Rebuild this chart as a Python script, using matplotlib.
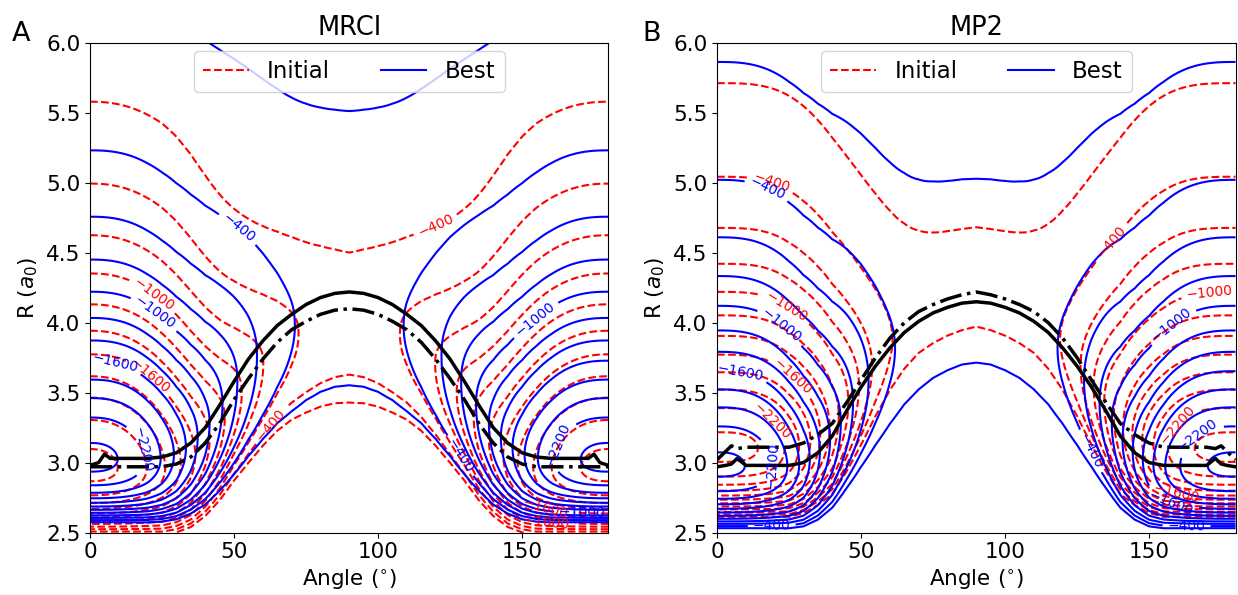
import numpy as np
import matplotlib
matplotlib.use("Agg")
import matplotlib.pyplot as plt
from matplotlib.lines import Line2D

# ---------------- data ----------------
panel_titles = ["MRCI", "MP2"]
panel_letters = ["A", "B"]
series_names = ["Initial", "Best"]
contour_levels = [-2400, -2200, -2000, -1800, -1600, -1400, -1200, -1000,
                  -800, -600, -400, -200]
labelled_levels = [-2200, -1600, -1000, -400]

# minimum-energy paths R(angle), read for 0..90 deg (surface symmetric about 90)
mep_angle = [0, 3, 5, 7, 10, 15, 20, 25, 30, 35, 40, 45, 50, 55, 60, 65, 70, 75, 80, 85, 90]
mrci_best_mep = [2.98, 3.00, 3.06, 3.03, 3.03, 3.03, 3.03, 3.04, 3.07, 3.14, 3.25,
                 3.41, 3.58, 3.74, 3.87, 3.98, 4.06, 4.13, 4.18, 4.21, 4.22]
mrci_initial_mep = [2.97, 2.97, 2.97, 2.97, 2.97, 2.97, 2.97, 2.97, 2.99, 3.04, 3.14,
                    3.28, 3.45, 3.60, 3.74, 3.86, 3.95, 4.01, 4.06, 4.09, 4.10]
mp2_best_mep = [2.97, 2.98, 2.99, 3.03, 2.98, 2.98, 2.98, 2.98, 3.00, 3.07, 3.19,
                3.37, 3.54, 3.69, 3.82, 3.93, 4.01, 4.07, 4.11, 4.14, 4.15]
mp2_initial_mep = [3.02, 3.08, 3.12, 3.10, 3.11, 3.11, 3.11, 3.11, 3.14, 3.20, 3.28,
                   3.43, 3.59, 3.75, 3.89, 4.00, 4.08, 4.13, 4.17, 4.20, 4.22]

# surface parameters:
# [well depth 0deg, depth 90deg, angular width, angular shape, inner range 0deg,
#  inner range 90deg, inner range dip, outer range 0deg, outer range 90deg,
#  long-range strength at R=6, long-range decay]
mrci_initial_par = [2075, 180, 46, 2.3, 1.50, 1.25, 0.10, 1.20, 2.36, 205, 0.20]
mrci_best_par = [2153, 97, 43, 2.5, 1.55, 1.24, 0.30, 1.36, 1.73, 163, 0.20]
mp2_initial_par = [2257, 140, 44, 3.3, 1.40, 2.30, 0.30, 1.38, 2.00, 70, 0.35]
mp2_best_par = [2231, 138, 41, 2.8, 1.55, 1.49, 0.30, 1.37, 1.50, 112, 0.20]

# where the contour labels sit (angle, R), layout only
label_spots = {
    ("A", "Initial"): [(22, 4.20), (21.8, 3.645), (116, 4.9), (62.6, 3.27),
                       (158, 2.66), (158.5, 2.56)],
    ("A", "Best"): [(51.7, 4.68), (21, 4.03), (8, 3.66), (14.9, 3.07),
                    (127.9, 3.04), (155.5, 4.0), (166, 3.09), (171, 2.67)],
    ("B", "Initial"): [(18, 4.95), (136, 4.60), (21, 4.02), (21, 3.49),
                       (13.1, 3.16), (171, 4.17), (167.2, 3.14), (160, 2.85)],
    ("B", "Best"): [(18.8, 5.02), (22.4, 3.98), (8, 3.65), (15.8, 2.98),
                    (19, 2.54), (130.4, 3.09), (158.9, 3.96), (172, 3.04),
                    (158.5, 2.77), (163, 2.55)],
}

angle_axis = np.arange(0, 180.25, 0.5)
r_axis = np.arange(2.5, 6.0001, 0.005)


def surface(mep, par):
    d0, d90, w, p, ain0, ain90, dip, aout0, aout90, lc, g = par
    th, rr = np.meshgrid(angle_axis, r_axis)
    t = np.minimum(th, 180 - th)
    re = np.interp(t, mep_angle[4:], mep[4:])
    s = np.clip((re - mep[4]) / (mep[-1] - mep[4]), 0, 1)
    depth = d90 + (d0 - d90) * np.exp(-(t / w) ** p)
    ain = ain0 + (ain90 - ain0) * s - dip * 4 * s * (1 - s)
    aout = aout0 + (aout90 - aout0) * s
    x = rr - re
    y = np.where(x >= 0, 1 - np.exp(-aout * x), 1 - np.exp(-ain * x))
    return depth * (y ** 2 - 1) - lc * np.exp(g * (6.0 - rr))


panels = [
    (mrci_initial_mep, mrci_initial_par, mrci_best_mep, mrci_best_par),
    (mp2_initial_mep, mp2_initial_par, mp2_best_mep, mp2_best_par),
]
plain_levels = [v for v in contour_levels if v not in labelled_levels]

fig = plt.figure(figsize=(12.38, 5.95), dpi=100)
axes = [fig.add_axes([0.0727, 0.105, 0.4188, 0.8227]),
        fig.add_axes([0.5792, 0.105, 0.4188, 0.8227])]

for k, ax in enumerate(axes):
    mep_i, par_i, mep_b, par_b = panels[k]
    letter = panel_letters[k]
    ax.set_xlim(0, 180)
    ax.set_ylim(2.5, 6.0)
    for mep, par, col, ls, name in [(mep_i, par_i, "r", "dashed", "Initial"),
                                    (mep_b, par_b, "b", "solid", "Best")]:
        z = surface(mep, par)
        ax.contour(angle_axis, r_axis, z, levels=plain_levels, colors=col,
                   linestyles=ls, linewidths=1.5)
        cs = ax.contour(angle_axis, r_axis, z, levels=labelled_levels, colors=col,
                        linestyles=ls, linewidths=1.5)
        try:
            ax.clabel(cs, inline=True, fontsize=10, manual=label_spots[(letter, name)])
        except Exception:
            ax.clabel(cs, inline=True, fontsize=10)

    full_angle = mep_angle + [180 - a for a in mep_angle[::-1][1:]]
    ax.plot(full_angle, mep_b + mep_b[::-1][1:], color="k", lw=2.5, ls="-")
    ax.plot(full_angle, mep_i + mep_i[::-1][1:], color="k", lw=2.5, ls="-.")

    ax.set_xlim(0, 180)
    ax.set_ylim(2.5, 6.0)
    ax.set_xticks([0, 50, 100, 150])
    ax.set_yticks([2.5, 3.0, 3.5, 4.0, 4.5, 5.0, 5.5, 6.0])
    ax.tick_params(labelsize=15.5)
    ax.set_xlabel("Angle ($^{\\circ}$)", fontsize=15.5)
    ax.set_ylabel("R ($a_0$)", fontsize=15.5)
    ax.set_title(panel_titles[k], fontsize=18.5)
    handles = [Line2D([], [], color="r", ls="--", lw=1.5),
               Line2D([], [], color="b", ls="-", lw=1.5)]
    ax.legend(handles, series_names, loc="upper center", ncol=2, fontsize=16.5,
              borderaxespad=0.35, columnspacing=2.2)

fig.text(0.0094, 0.931, panel_letters[0], fontsize=19.5, va="baseline")
fig.text(0.5186, 0.931, panel_letters[1], fontsize=19.5, va="baseline")

fig.savefig("out.png", dpi=100)
